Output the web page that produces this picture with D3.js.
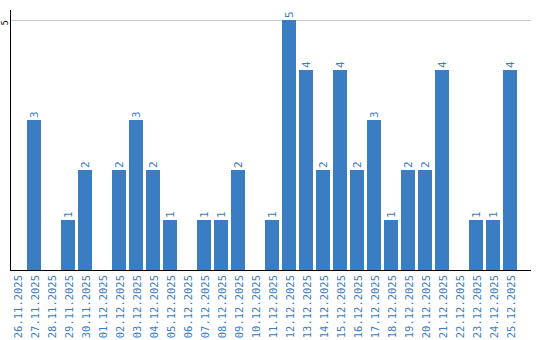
<!DOCTYPE html>
<html><head><meta charset="utf-8">
<script src="https://cdn.jsdelivr.net/npm/d3@7"></script>
<style>body{margin:0;background:#fff}svg{display:block}</style>
</head><body>
<script>
const dates = ["26.11.2025","27.11.2025","28.11.2025","29.11.2025","30.11.2025","01.12.2025","02.12.2025","03.12.2025","04.12.2025","05.12.2025","06.12.2025","07.12.2025","08.12.2025","09.12.2025","10.12.2025","11.12.2025","12.12.2025","13.12.2025","14.12.2025","15.12.2025","16.12.2025","17.12.2025","18.12.2025","19.12.2025","20.12.2025","21.12.2025","22.12.2025","23.12.2025","24.12.2025","25.12.2025"];
const values = [0,3,0,1,2,0,2,3,2,1,0,1,1,2,0,1,5,4,2,4,2,3,1,2,2,4,0,1,1,4];
const yTicks = [5];

const W = 540, H = 340;
const color = "#3b7dc3";
const font = "DejaVu Sans Mono";
const svg = d3.select("body").append("svg").attr("width", W).attr("height", H);

const x = d3.scaleBand().domain(dates).range([10, 517]).paddingInner(3/17).paddingOuter(0);
const y = d3.scaleLinear().domain([0, 5]).range([270, 20]);

// gridline
svg.append("g").selectAll("line").data(yTicks).join("line")
  .attr("x1", 11).attr("x2", 531)
  .attr("y1", d => Math.round(y(d)) + 0.5).attr("y2", d => Math.round(y(d)) + 0.5)
  .attr("stroke", "#c8c8c8").attr("stroke-width", 1);

const rows = values.map((v, i) => ({d: dates[i], v})).filter(o => o.v > 0);

// bars
svg.append("g").selectAll("rect").data(rows).join("rect")
  .attr("x", o => x(o.d)).attr("width", x.bandwidth())
  .attr("y", o => y(o.v)).attr("height", o => y(0) - y(o.v))
  .attr("fill", color);

// value labels
svg.append("g").selectAll("text").data(rows).join("text")
  .attr("transform", o => `translate(${x(o.d) + x.bandwidth()/2 + 4},${y(o.v) - 2}) rotate(-90)`)
  .attr("text-anchor", "start")
  .attr("font-family", font)
  .attr("font-size", 11)
  .attr("fill", color)
  .text(o => o.v);

// y axis label
svg.append("g").selectAll("text").data(yTicks).join("text")
  .attr("transform", d => `translate(7.5,${y(d)}) rotate(-90)`)
  .attr("text-anchor", "end")
  .attr("font-family", font)
  .attr("font-size", 8.5)
  .attr("fill", "#000")
  .text(d => d);

// x axis tick labels
const xAxis = d3.axisBottom(x).tickSize(0).tickPadding(0);
const gx = svg.append("g").attr("transform", "translate(0,270)").call(xAxis);
gx.select(".domain").remove();
gx.selectAll("text")
  .attr("font-family", font)
  .attr("font-size", 10.5)
  .attr("fill", color)
  .attr("text-anchor", "end")
  .attr("dy", null)
  .attr("y", null)
  .attr("transform", "translate(4.5,5) rotate(-90)");

// axis lines
svg.append("line").attr("x1", 10.5).attr("x2", 10.5).attr("y1", 10).attr("y2", 271)
  .attr("stroke", "#000").attr("stroke-width", 1);
svg.append("line").attr("x1", 10).attr("x2", 531).attr("y1", 270.5).attr("y2", 270.5)
  .attr("stroke", "#000").attr("stroke-width", 1);
</script>
</body></html>
